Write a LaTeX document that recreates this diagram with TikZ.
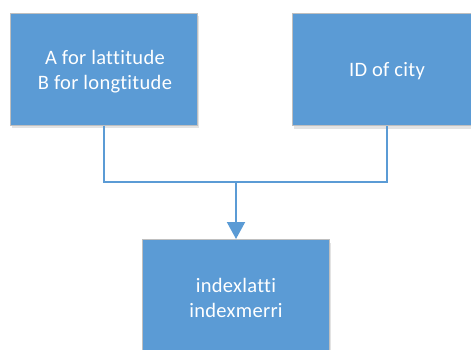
\documentclass[tikz,border=0pt]{standalone}
\usepackage{fontspec}
\setmainfont[Ligatures={NoCommon,NoDiscretionary},LetterSpace=1.5]{Carlito}
\usetikzlibrary{arrows.meta,shadows}
\definecolor{boxblue}{HTML}{5B9BD5}
\definecolor{boxedge}{HTML}{BFBFBF}
\tikzset{
  bluebox/.style={rectangle, fill=boxblue, draw=boxedge, line width=1pt,
    minimum width=187pt, minimum height=112pt, inner sep=0pt,
    drop shadow={shadow xshift=1.5pt, shadow yshift=-3pt, opacity=0.18, fill=black!60}},
  boxtext/.style={text=white, align=center, font=\fontsize{20.5}{25}\selectfont},
  link/.style={draw=boxblue, line width=2pt}
}
\begin{document}
\begin{tikzpicture}[x=1pt,y=-1pt]
\useasboundingbox (0,0) rectangle (471,349);
\clip (0,0) rectangle (471,349);
\node[bluebox] (latlon) at (103.5,69) {};
\node[boxtext] (latlontext) at (105,72) {A for lattitude\\B for longtitude};
\node[bluebox, anchor=north west, minimum width=190pt] (city) at (292,13) {};
\node[boxtext] (citytext) at (387,71) {ID of city};
\node[bluebox, anchor=north west, minimum height=120pt] (index) at (142,239) {};
\node[boxtext] (indextext) at (236,298) {indexlatti\\indexmerri};
\coordinate (join) at (236,182);
\draw[link] (latlon.south) |- (join);
\draw[link] (city.south -| citytext) |- (join);
\draw[link, -{Triangle[width=18pt,length=17pt]}] (join) -- (index.north -| join);
\end{tikzpicture}
\end{document}
